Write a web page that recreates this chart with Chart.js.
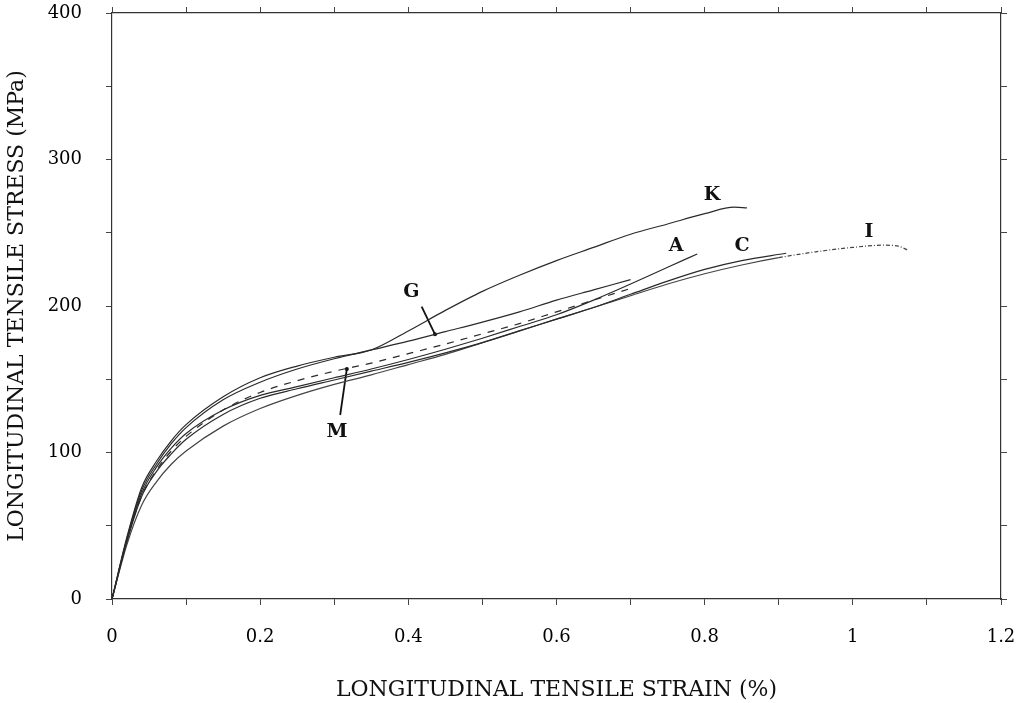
<!DOCTYPE html>
<html>
<head>
<meta charset="utf-8">
<script src="https://cdn.jsdelivr.net/npm/chart.js@4/dist/chart.umd.min.js"></script>
<style>
  body { margin: 0; background: #fff; }
  #wrap { width: 1016px; height: 703px; }
</style>
</head>
<body>
<div id="wrap"><canvas id="chart"></canvas></div>
<script>
// ===== DATA (strain %, stress MPa) =====
const strainK = [0, 0.02, 0.04, 0.06, 0.08, 0.1, 0.15, 0.2, 0.25, 0.3, 0.35, 0.4, 0.45, 0.5, 0.55, 0.6, 0.65, 0.7, 0.75, 0.8, 0.84, 0.857];
const stressK = [0, 42, 76, 94, 108, 119, 138, 151, 159, 165, 170, 183, 197, 210, 221, 231, 240, 249, 256, 263, 267.5, 267];

const strainG = [0, 0.02, 0.04, 0.06, 0.08, 0.1, 0.15, 0.2, 0.25, 0.3, 0.35, 0.4, 0.45, 0.5, 0.55, 0.6, 0.65, 0.7];
const stressG = [0, 41, 74, 92, 106, 117, 136, 148, 157, 164, 170, 176, 182.5, 189, 196, 204, 211, 218];

const strainM = [0, 0.02, 0.04, 0.06, 0.08, 0.1, 0.15, 0.2, 0.25, 0.3, 0.35, 0.4, 0.45, 0.5, 0.55, 0.6, 0.65, 0.7];
const stressM = [0, 40, 70, 88, 101, 111, 129, 141, 149, 155.5, 161, 167.5, 174, 181, 188, 196, 204, 212];

const strainA = [0, 0.02, 0.04, 0.06, 0.08, 0.1, 0.15, 0.2, 0.25, 0.3, 0.35, 0.4, 0.45, 0.5, 0.55, 0.6, 0.65, 0.7, 0.75, 0.79];
const stressA = [0, 40, 72, 90, 103, 113, 129, 139, 145, 151, 157, 163.5, 170.5, 178, 186, 194, 204, 215, 226.5, 235.5];

const strainC = [0, 0.02, 0.04, 0.06, 0.08, 0.1, 0.15, 0.2, 0.25, 0.3, 0.35, 0.4, 0.45, 0.5, 0.55, 0.6, 0.65, 0.7, 0.75, 0.8, 0.85, 0.91];
const stressC = [0, 39, 70, 87, 99, 109, 126, 137, 143.5, 149.5, 155.5, 161.5, 168, 175, 183, 191, 199, 208, 217, 225, 231, 236];

const strainI = [0, 0.02, 0.04, 0.06, 0.08, 0.1, 0.15, 0.2, 0.25, 0.3, 0.35, 0.4, 0.45, 0.5, 0.55, 0.6, 0.65, 0.7, 0.75, 0.8, 0.85, 0.9, 0.95, 1, 1.04, 1.06, 1.075];
const stressI = [0, 37, 64, 80, 92, 101, 118, 130, 139, 146.5, 153, 160, 167, 175, 183, 191, 199, 207, 215, 222, 228, 233, 237, 240, 241.5, 241, 238];

// leader lines for G and M (start, end at the curve)
const pointerGStrain = [0.418, 0.436];
const pointerGStress = [199.5, 180.7];
const pointerMStrain = [0.308, 0.317];
const pointerMStress = [125.6, 157];

// curve labels
const labelText = ["K", "A", "C", "I", "G", "M"];
const labelStrain = [0.81, 0.7613, 0.8504, 1.0219, 0.404, 0.3037];
const labelStress = [275.8, 241, 241, 250.5, 209.5, 114];

const xTickStep = 0.1;
const yTickStep = 50;

const INK = "#2a2a2a";
const SERIF = "'DejaVu Serif', 'Liberation Serif', serif";

function pts(xs, ys) {
  return xs.map((x, i) => ({ x: x, y: ys[i] }));
}

function curve(xs, ys, dash) {
  return {
    data: pts(xs, ys),
    borderColor: INK,
    borderWidth: 1.2,
    borderDash: dash || [],
    pointRadius: 0,
    cubicInterpolationMode: "monotone",
    fill: false,
  };
}

function pointer(xs, ys) {
  return {
    data: pts(xs, ys),
    borderColor: "#111",
    borderWidth: 1.8,
    pointRadius: [0, 2],
    pointBackgroundColor: "#111",
    pointBorderWidth: 0,
    fill: false,
  };
}

// I is only dotted where it runs on alone past C
const curveI = curve(strainI, stressI);
curveI.borderColor = "#444";
curveI.segment = {
  borderDash: (ctx) => (ctx.p0.parsed.x >= 0.9 ? [4, 2, 1, 2] : undefined),
};

// ===== CURVE LABELS =====
const curveLabels = {
  id: "curveLabels",
  afterDatasetsDraw(chart) {
    const { ctx, scales } = chart;
    ctx.save();
    ctx.fillStyle = "#111";
    ctx.font = "bold 19px " + SERIF;
    ctx.textAlign = "center";
    ctx.textBaseline = "middle";
    labelText.forEach((t, i) => {
      ctx.fillText(t, scales.x.getPixelForValue(labelStrain[i]), scales.y.getPixelForValue(labelStress[i]));
    });
    ctx.restore();
  },
};

const axisGrid = {
  drawOnChartArea: false,
  drawTicks: true,
  tickLength: 6,
  color: "#444",
  lineWidth: 1,
};
const axisBorder = { display: true, color: "#333", width: 1.2 };

// fixed box sizes, and no label overhang padding
function fitX(h) {
  return (s) => { s.height = h; s.paddingLeft = 0; s.paddingRight = 0; };
}
function fitY(w) {
  return (s) => { s.width = w; s.paddingTop = 0; s.paddingBottom = 0; };
}

new Chart(document.getElementById("chart"), {
  type: "line",
  data: {
    datasets: [
      curve(strainK, stressK),
      curve(strainG, stressG),
      curve(strainM, stressM, [7, 7]),
      curve(strainA, stressA),
      curve(strainC, stressC),
      curveI,
      pointer(pointerGStrain, pointerGStress),
      pointer(pointerMStrain, pointerMStress),
    ],
  },
  options: {
    responsive: true,
    maintainAspectRatio: false,
    animation: false,
    layout: { padding: 0 },
    plugins: { legend: { display: false }, tooltip: { enabled: false } },
    scales: {
      x: {
        type: "linear",
        position: "bottom",
        min: 0,
        max: 1.2,
        grid: axisGrid,
        border: axisBorder,
        afterFit: fitX(104),
        ticks: {
          stepSize: xTickStep,
          autoSkip: false,
          maxRotation: 0,
          padding: 22,
          color: "#000",
          font: { family: SERIF, size: 18 },
          callback: (v) => (Math.round(v * 10) % 2 === 0 ? String(Math.round(v * 10) / 10) : ""),
        },
        title: {
          display: true,
          text: "LONGITUDINAL TENSILE STRAIN (%)",
          color: "#111",
          font: { family: SERIF, size: 22 },
          padding: { top: 0, bottom: 0 },
        },
      },
      x2: {
        type: "linear",
        position: "top",
        min: 0,
        max: 1.2,
        grid: axisGrid,
        border: axisBorder,
        afterFit: fitX(13),
        ticks: { stepSize: xTickStep, display: false },
      },
      y: {
        type: "linear",
        position: "left",
        min: 0,
        max: 400,
        grid: axisGrid,
        border: axisBorder,
        afterFit: fitY(112),
        ticks: {
          stepSize: yTickStep,
          padding: 24,
          color: "#000",
          font: { family: SERIF, size: 18 },
          callback: (v) => (v % 100 === 0 ? String(v) : ""),
        },
        title: {
          display: true,
          text: "LONGITUDINAL TENSILE STRESS (MPa)",
          color: "#111",
          font: { family: SERIF, size: 22 },
          padding: { top: 4, bottom: 0 },
        },
      },
      y2: {
        type: "linear",
        position: "right",
        min: 0,
        max: 400,
        grid: axisGrid,
        border: axisBorder,
        afterFit: fitY(15),
        ticks: { stepSize: yTickStep, display: false },
      },
    },
  },
  plugins: [curveLabels],
});
</script>
</body>
</html>
